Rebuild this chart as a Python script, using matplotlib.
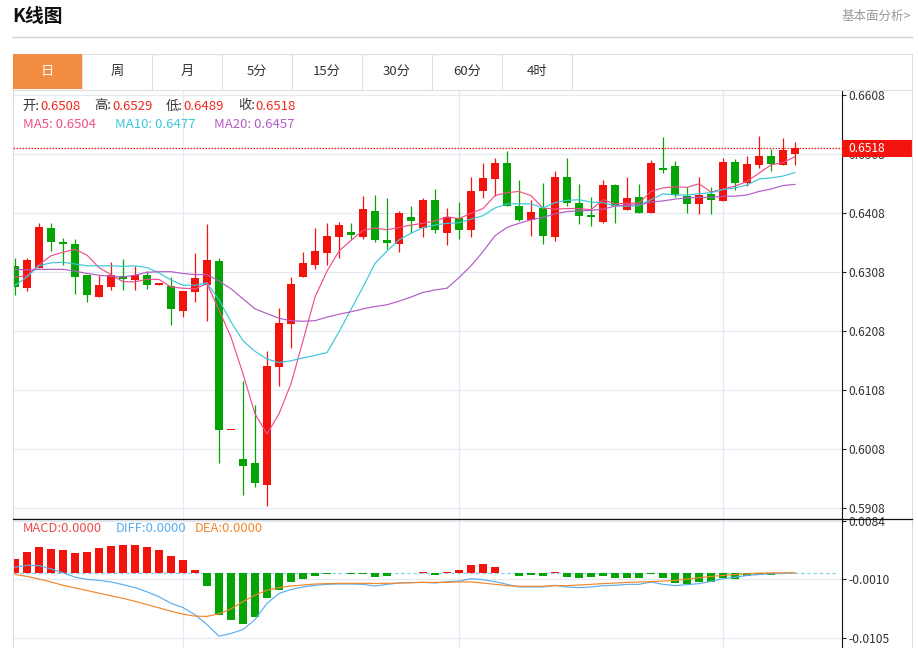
import numpy as np
import matplotlib
matplotlib.use("Agg")
import matplotlib.pyplot as plt
from matplotlib.patches import Rectangle
import matplotlib.transforms as mtransforms

plt.rcParams['font.family'] = ['Noto Sans CJK SC', 'DejaVu Sans']

# daily candles (open, high, low, close)
opens = [0.6319, 0.6281, 0.6316, 0.6383, 0.6359, 0.6356, 0.6303, 0.6266, 0.6283, 0.6301,
         0.6295, 0.6303, 0.6287, 0.6284, 0.6242, 0.6274, 0.6287, 0.6327, 0.6040, 0.5992,
         0.5984, 0.5947, 0.6147, 0.6220, 0.6300, 0.6321, 0.6341, 0.6368, 0.6376, 0.6367,
         0.6412, 0.6363, 0.6356, 0.6401, 0.6383, 0.6430, 0.6375, 0.6400, 0.6379, 0.6445,
         0.6466, 0.6493, 0.6421, 0.6397, 0.6417, 0.6368, 0.6469, 0.6426, 0.6405, 0.6394,
         0.6456, 0.6413, 0.6435, 0.6408, 0.6485, 0.6488, 0.6438, 0.6424, 0.6441, 0.6429,
         0.6495, 0.6460, 0.6489, 0.6505, 0.6489, 0.6508]
highs = [0.6333, 0.6332, 0.6391, 0.6391, 0.6366, 0.6364, 0.6303, 0.6304, 0.6325, 0.6330,
         0.6319, 0.6311, 0.6288, 0.6300, 0.6276, 0.6340, 0.6389, 0.6332, 0.6041, 0.6124,
         0.6083, 0.6174, 0.6248, 0.6300, 0.6342, 0.6383, 0.6391, 0.6393, 0.6392, 0.6438,
         0.6439, 0.6434, 0.6412, 0.6421, 0.6434, 0.6449, 0.6417, 0.6427, 0.6470, 0.6493,
         0.6501, 0.6514, 0.6464, 0.6431, 0.6460, 0.6479, 0.6501, 0.6458, 0.6436, 0.6465,
         0.6458, 0.6470, 0.6458, 0.6499, 0.6538, 0.6496, 0.6453, 0.6470, 0.6453, 0.6501,
         0.6500, 0.6505, 0.6539, 0.6517, 0.6535, 0.6529]
lows = [0.6269, 0.6276, 0.6316, 0.6344, 0.6320, 0.6271, 0.6257, 0.6266, 0.6278, 0.6278,
        0.6278, 0.6280, 0.6287, 0.6218, 0.6232, 0.6258, 0.6225, 0.5985, 0.6040, 0.5930,
        0.5944, 0.5912, 0.6115, 0.6179, 0.6300, 0.6314, 0.6321, 0.6333, 0.6363, 0.6364,
        0.6360, 0.6347, 0.6343, 0.6375, 0.6367, 0.6375, 0.6355, 0.6364, 0.6368, 0.6434,
        0.6438, 0.6421, 0.6395, 0.6370, 0.6356, 0.6361, 0.6421, 0.6390, 0.6387, 0.6391,
        0.6391, 0.6413, 0.6408, 0.6408, 0.6477, 0.6435, 0.6409, 0.6407, 0.6407, 0.6429,
        0.6448, 0.6454, 0.6484, 0.6479, 0.6489, 0.6489]
closes = [0.6283, 0.6328, 0.6384, 0.6359, 0.6356, 0.6300, 0.6269, 0.6286, 0.6303, 0.6297,
          0.6303, 0.6287, 0.6288, 0.6245, 0.6276, 0.6298, 0.6328, 0.6040, 0.6041, 0.5980,
          0.5951, 0.6149, 0.6222, 0.6288, 0.6324, 0.6344, 0.6370, 0.6388, 0.6372, 0.6415,
          0.6362, 0.6358, 0.6408, 0.6395, 0.6431, 0.6380, 0.6401, 0.6380, 0.6445, 0.6467,
          0.6493, 0.6421, 0.6397, 0.6411, 0.6370, 0.6470, 0.6425, 0.6403, 0.6401, 0.6456,
          0.6421, 0.6434, 0.6408, 0.6493, 0.6482, 0.6439, 0.6424, 0.6439, 0.6430, 0.6495,
          0.6460, 0.6491, 0.6505, 0.6492, 0.6516, 0.6518]

ma5 = [0.6300, 0.6302, 0.6321, 0.6336, 0.6342, 0.6347, 0.6337, 0.6316, 0.6304, 0.6292,
       0.6292, 0.6296, 0.6296, 0.6283, 0.6281, 0.6280, 0.6289, 0.6244, 0.6198, 0.6136,
       0.6068, 0.6034, 0.6068, 0.6119, 0.6192, 0.6266, 0.6310, 0.6344, 0.6362, 0.6379,
       0.6383, 0.6380, 0.6384, 0.6388, 0.6391, 0.6395, 0.6402, 0.6399, 0.6408, 0.6416,
       0.6438, 0.6443, 0.6445, 0.6438, 0.6417, 0.6415, 0.6416, 0.6416, 0.6414, 0.6431,
       0.6424, 0.6425, 0.6425, 0.6445, 0.6451, 0.6453, 0.6452, 0.6458, 0.6444, 0.6449,
       0.6454, 0.6462, 0.6476, 0.6490, 0.6494, 0.6504]
ma10 = [0.6286, 0.6300, 0.6319, 0.6324, 0.6325, 0.6322, 0.6319, 0.6319, 0.6319, 0.6318,
        0.6319, 0.6316, 0.6307, 0.6295, 0.6286, 0.6286, 0.6290, 0.6261, 0.6224, 0.6192,
        0.6174, 0.6161, 0.6155, 0.6158, 0.6163, 0.6167, 0.6172, 0.6207, 0.6245, 0.6283,
        0.6323, 0.6344, 0.6363, 0.6374, 0.6384, 0.6388, 0.6391, 0.6392, 0.6398, 0.6404,
        0.6417, 0.6424, 0.6424, 0.6424, 0.6417, 0.6426, 0.6430, 0.6431, 0.6427, 0.6426,
        0.6421, 0.6420, 0.6421, 0.6431, 0.6441, 0.6439, 0.6439, 0.6441, 0.6443, 0.6448,
        0.6451, 0.6456, 0.6466, 0.6468, 0.6471, 0.6477]
ma20 = [0.6313, 0.6312, 0.6313, 0.6313, 0.6313, 0.6310, 0.6306, 0.6303, 0.6301, 0.6300,
        0.6303, 0.6308, 0.6309, 0.6309, 0.6306, 0.6304, 0.6304, 0.6293, 0.6280, 0.6263,
        0.6246, 0.6238, 0.6230, 0.6226, 0.6225, 0.6226, 0.6232, 0.6237, 0.6241, 0.6246,
        0.6250, 0.6253, 0.6259, 0.6266, 0.6274, 0.6278, 0.6281, 0.6299, 0.6319, 0.6343,
        0.6370, 0.6384, 0.6391, 0.6397, 0.6401, 0.6407, 0.6411, 0.6412, 0.6413, 0.6415,
        0.6420, 0.6422, 0.6422, 0.6427, 0.6429, 0.6432, 0.6434, 0.6435, 0.6435, 0.6437,
        0.6437, 0.6439, 0.6445, 0.6449, 0.6455, 0.6457]

macd_hist = [0.00223, 0.00339, 0.00418, 0.00391, 0.00370, 0.00323, 0.00334, 0.00398, 0.00439, 0.00445,
             0.00445, 0.00413, 0.00366, 0.00275, 0.00211, 0.00052, -0.00218, -0.0069, -0.0077, -0.00833,
             -0.00716, -0.00409, -0.0027, -0.00154, -0.00095, -0.00054, -0.00022, -0.0001, -0.00022, -0.00012,
             -0.0007, -0.00048, 0.00005, -0.00005, 0.0002, -0.0003, 0.0002, 0.0004, 0.00132, 0.00148,
             0.001, -0.00006, -0.00048, -0.00043, -0.00054, 0.0002, -0.00064, -0.00091, -0.00075, -0.00048,
             -0.00091, -0.00091, -0.00086, -0.00016, -0.00091, -0.00165, -0.00181, -0.00154, -0.00143, -0.00086,
             -0.00102, -0.00054, -0.00032, -0.00027, -0.00006, -0.00002]
diff = [0.0009, 0.00122, 0.00117, 0.00064, 0.0, -0.00069, -0.00106, -0.00122, -0.00148, -0.00191,
        -0.00239, -0.00307, -0.00387, -0.00493, -0.00562, -0.00678, -0.00837, -0.01024, -0.00981, -0.00917,
        -0.00758, -0.00493, -0.00334, -0.0027, -0.00229, -0.00202, -0.00186, -0.00181, -0.00181, -0.00186,
        -0.00213, -0.00186, -0.00165, -0.00159, -0.00154, -0.00165, -0.00143, -0.00133, -0.00095, -0.00111,
        -0.00143, -0.00186, -0.00229, -0.00229, -0.00229, -0.00202, -0.00229, -0.00239, -0.00229, -0.00207,
        -0.00202, -0.00186, -0.00186, -0.00149, -0.00186, -0.00207, -0.00191, -0.00175, -0.00138, -0.00095,
        -0.0007, -0.00043, -0.00027, -0.00016, -0.00005, 0.0]
dea = [-0.00026, -0.00058, -0.001, -0.00148, -0.00201, -0.00244, -0.00286, -0.00329, -0.00371, -0.00413,
       -0.00461, -0.00514, -0.00567, -0.0062, -0.00668, -0.007, -0.00705, -0.00663, -0.00583, -0.00467,
       -0.00361, -0.00281, -0.00239, -0.00213, -0.00197, -0.00181, -0.00175, -0.0017, -0.0017, -0.0017,
       -0.0017, -0.0017, -0.00165, -0.00159, -0.00154, -0.00154, -0.00154, -0.00148, -0.00148, -0.00165,
       -0.00186, -0.00207, -0.00217, -0.00217, -0.00217, -0.00207, -0.00207, -0.00197, -0.00186, -0.00175,
       -0.00165, -0.00154, -0.00148, -0.00143, -0.00133, -0.00122, -0.00101, -0.0008, -0.00058, -0.00042,
       -0.00027, -0.00016, -0.00005, 0.0, 0.0, 0.0]

price_ticks = [0.6608, 0.6508, 0.6408, 0.6308, 0.6208, 0.6108, 0.6008, 0.5908]
macd_ticks = [0.0084, -0.0010, -0.0105]
month_starts = [14, 37, 59]
tabs = ["日", "周", "月", "5分", "15分", "30分", "60分", "4时"]

RED = "#F2140C"
GREEN = "#04A404"
GRID = "#E3EAF1"
C_MA5, C_MA10, C_MA20 = "#EE4F8A", "#3CC6DC", "#B45BC8"
C_DIFF, C_DEA = "#5AAEF0", "#F5862A"

W, H = 918, 648


def box(l, t, r, b):
    return [l / W, 1 - b / H, (r - l) / W, (b - t) / H]


fig = plt.figure(figsize=(W / 100, H / 100), dpi=100, facecolor="white")

o = np.array(opens)
hi = np.array(highs)
lo = np.array(lows)
c = np.array(closes)
x = np.arange(len(c))
cols = np.where(c >= o, RED, GREEN)

# price pane
ax = fig.add_axes(box(12.5, 89.5, 842, 518.5))
ax.set_xlim(-0.21, 68.92)
ax.set_ylim(0.58907, 0.66178)
ax.vlines(x, lo, hi, colors=cols, lw=0.9, zorder=2)
ax.bar(x, np.maximum(np.abs(c - o), 0.00025), bottom=np.minimum(o, c), width=0.72,
       color=cols, linewidth=0, zorder=2)
ax.plot(x, ma5, color=C_MA5, lw=0.85, zorder=3)
ax.plot(x, ma10, color=C_MA10, lw=0.85, zorder=3)
ax.plot(x, ma20, color=C_MA20, lw=0.85, zorder=3)
ax.axhline(c[-1], color=RED, lw=0.9, ls=(0, (1.2, 1.2)), zorder=4)
for m in month_starts:
    ax.axvline(m, color=GRID, lw=0.9, zorder=0)
ax.set_yticks(price_ticks)
ax.set_yticklabels([f"{t:.4f}" for t in price_ticks])
ax.yaxis.grid(True, color=GRID, lw=0.9)
ax.set_axisbelow(True)
ax.yaxis.tick_right()
ax.tick_params(axis="y", length=3, width=0.8, color="#222222", pad=1.5,
               labelsize=8.7, labelcolor="#333333")
ax.set_xticks([])
ax.spines["top"].set_visible(False)
ax.spines["left"].set_color("#DDDDDD")
ax.spines["right"].set_color("#111111")
ax.spines["bottom"].set_color("#111111")
for s in ("left", "right", "bottom"):
    ax.spines[s].set_linewidth(0.8)

# last price label on the right axis
tr = mtransforms.blended_transform_factory(ax.transAxes, ax.transData)
ax.add_patch(Rectangle((1.0005, c[-1] - 0.00148), 69.5 / 829.5, 0.00296, transform=tr,
                       facecolor=RED, edgecolor="none", clip_on=False, zorder=5))
ax.text(1.0 + 6.5 / 829.5, c[-1], f"{c[-1]:.4f}", transform=tr, color="white",
        fontsize=8.7, va="center", ha="left", clip_on=False, zorder=6)

# MACD pane
axm = fig.add_axes(box(12.5, 518.5, 842, 648))
axm.set_xlim(-0.21, 68.92)
axm.set_ylim(-0.01216, 0.00879)
mh = np.array(macd_hist)
axm.bar(x, mh, width=0.72, color=np.where(mh >= 0, RED, GREEN), linewidth=0, zorder=2)
axm.plot([-0.21, 68.6], [0, 0], color="#8FD3EC", lw=0.9, ls=(0, (3, 2)), zorder=1)
axm.plot(x, diff, color=C_DIFF, lw=0.85, zorder=3)
axm.plot(x, dea, color=C_DEA, lw=0.85, zorder=3)
for m in month_starts:
    axm.axvline(m, color=GRID, lw=0.9, zorder=0)
axm.set_yticks(macd_ticks)
axm.set_yticklabels([f"{t:.4f}" for t in macd_ticks])
axm.yaxis.grid(True, color=GRID, lw=0.9)
axm.set_axisbelow(True)
axm.yaxis.tick_right()
axm.tick_params(axis="y", length=3, width=0.8, color="#222222", pad=1.5,
                labelsize=8.7, labelcolor="#333333")
axm.set_xticks([])
axm.spines["top"].set_visible(False)
axm.spines["bottom"].set_visible(False)
axm.spines["left"].set_color("#DDDDDD")
axm.spines["right"].set_color("#111111")
for s in ("left", "right"):
    axm.spines[s].set_linewidth(0.8)

# page decorations in pixel coordinates
ov = fig.add_axes([0, 0, 1, 1], zorder=10)
ov.set_xlim(0, W)
ov.set_ylim(H, 0)
ov.axis("off")
ov.patch.set_alpha(0)

ov.text(12, 17, "K线图", fontsize=13.5, fontweight="bold", color="#111111", va="center")
ov.text(911, 16, "基本面分析>", fontsize=9, color="#999999", va="center", ha="right")
ov.plot([12, 912], [37.3, 37.3], color="#D3D3D3", lw=1)

ov.add_patch(Rectangle((12.5, 53.5), 899, 36, facecolor="white", edgecolor="#E0E0E0", lw=0.8))
ov.add_patch(Rectangle((12.5, 53.5), 69.5, 35.6, facecolor="#F28C41", edgecolor="none"))
for k, name in enumerate(tabs):
    ov.plot([82 + 70 * k, 82 + 70 * k], [53.5, 89.3], color="#E0E0E0", lw=0.8)
    ov.text(47 + 70 * k, 71.5, name, fontsize=9.5, ha="center", va="center",
            color="white" if k == 0 else "#333333")

ov.plot([912, 912], [89.5, 648], color="#DDDDDD", lw=0.8)
ov.plot([12.5, 912], [518.5, 518.5], color="#111111", lw=0.9)

# info rows
info = [("开:", 22.7, "#333333"), (f"{opens[-1]:.4f}", 40.7, "#F0281E"),
        ("高:", 94.3, "#333333"), (f"{highs[-1]:.4f}", 112.3, "#F0281E"),
        ("低:", 165.7, "#333333"), (f"{lows[-1]:.4f}", 183.7, "#F0281E"),
        ("收:", 237.7, "#333333"), (f"{closes[-1]:.4f}", 255.3, "#F0281E")]
for txt, px, col in info:
    ov.text(px, 106, txt, fontsize=9.5, color=col, va="center")
ov.text(22.7, 124, f"MA5: {ma5[-1]:.4f}", fontsize=9.5, color=C_MA5, va="center")
ov.text(115, 124, f"MA10: {ma10[-1]:.4f}", fontsize=9.5, color=C_MA10, va="center")
ov.text(213.7, 124, f"MA20: {ma20[-1]:.4f}", fontsize=9.5, color=C_MA20, va="center")

ov.text(22.7, 529, "MACD:0.0000", fontsize=9.3, color="#F04A4A", va="center")
ov.text(115.7, 529, "DIFF:0.0000", fontsize=9.3, color=C_DIFF, va="center")
ov.text(195, 529, "DEA:0.0000", fontsize=9.3, color=C_DEA, va="center")

fig.savefig("out.png", dpi=100, facecolor="white")
